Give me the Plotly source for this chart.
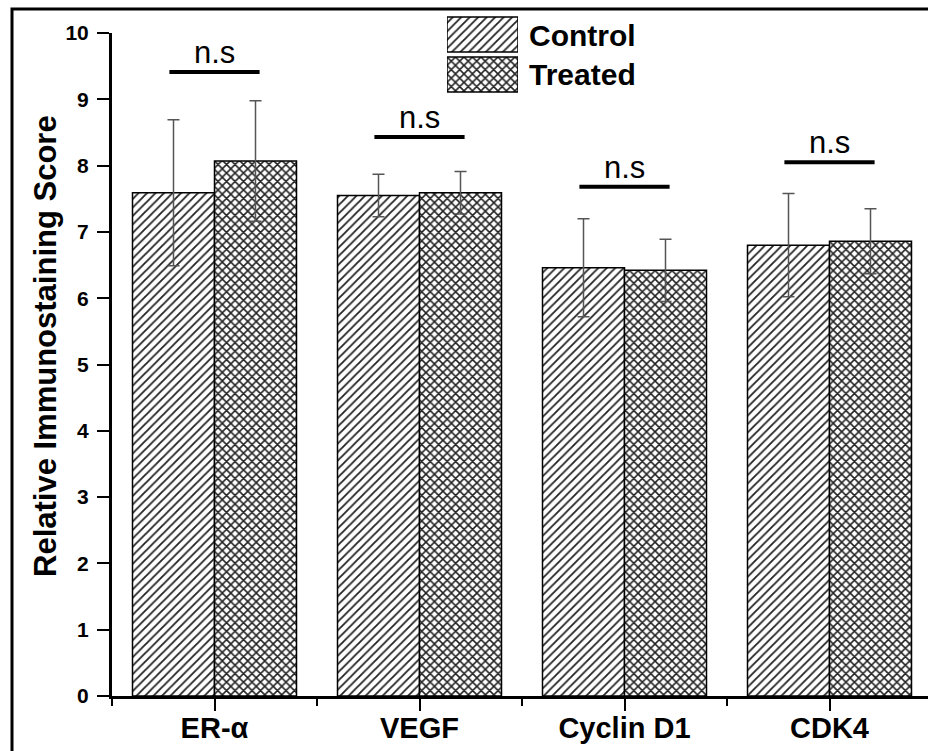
import plotly.graph_objects as go

# Immunostaining scores per marker, mean ± SD
markers = ["ER-α", "VEGF", "Cyclin D1", "CDK4"]
control_mean = [7.59, 7.55, 6.46, 6.80]
control_sd = [1.10, 0.32, 0.74, 0.78]
treated_mean = [8.07, 7.59, 6.42, 6.86]
treated_sd = [0.91, 0.32, 0.47, 0.49]
# height of the "n.s" bracket above each marker pair
ns_level = [9.41, 8.43, 7.68, 8.05]
ns_label = ["n.s", "n.s", "n.s", "n.s"]
y_ticks = [0, 1, 2, 3, 4, 5, 6, 7, 8, 9, 10]

W, H = 928, 751
FONT = "Arial, Liberation Sans, sans-serif"

# plot area in pixels
PX_L, PX_R, PX_T, PX_B = 112, 928, 33, 696


def px_x(px):
    return px / W


def px_y(py):
    return (H - py) / H


positions = list(range(len(markers)))

control_style = dict(
    color="white",
    line=dict(color="black", width=1.5),
    pattern=dict(shape="/", size=6, solidity=0.3, fgcolor="#222222", bgcolor="white"),
)
treated_style = dict(
    color="white",
    line=dict(color="black", width=1.5),
    pattern=dict(shape="x", size=6, solidity=0.45, fgcolor="#222222", bgcolor="white"),
)
err_style = dict(type="data", visible=True, color="#555555", thickness=1.5, width=6)

fig = go.Figure()
fig.add_trace(go.Bar(
    x=positions, y=control_mean, name="Control", marker=control_style,
    error_y=dict(array=control_sd, **err_style), showlegend=False,
))
fig.add_trace(go.Bar(
    x=positions, y=treated_mean, name="Treated", marker=treated_style,
    error_y=dict(array=treated_sd, **err_style), showlegend=False,
))

# legend swatches drawn as bars on a hidden helper axis
for yc, style in ((1.5, control_style), (0.5, treated_style)):
    fig.add_trace(go.Bar(
        x=[1], y=[yc], base=[0], orientation="h", marker=style,
        width=0.875, offset=-0.4375, xaxis="x2", yaxis="y2",
        showlegend=False, hoverinfo="skip",
    ))

shapes = []
annotations = []
for i, (lvl, lab) in enumerate(zip(ns_level, ns_label)):
    shapes.append(dict(type="line", xref="x", yref="y", x0=i - 0.22, x1=i + 0.22,
                       y0=lvl, y1=lvl, line=dict(color="black", width=4)))
    annotations.append(dict(x=i, y=lvl, xref="x", yref="y", text=lab, showarrow=False,
                            xanchor="center", yanchor="bottom", yshift=0,
                            font=dict(family=FONT, size=31, color="black")))

# outer frame: left and top edges only (the rest runs off the page)
fx, fy = px_x(12), px_y(9)
shapes.append(dict(type="path", xref="paper", yref="paper",
                   path=f"M {fx},0 L {fx},{fy} L 1,{fy}",
                   line=dict(color="black", width=3)))

annotations.append(dict(x=px_x(45), y=px_y(346), xref="paper", yref="paper",
                        text="Relative Immunostaining Score", textangle=-90,
                        showarrow=False, xanchor="center", yanchor="middle",
                        font=dict(family=FONT, size=31, weight="bold", color="black")))
for label, yc in (("Control", 35), ("Treated", 74)):
    annotations.append(dict(x=px_x(527), y=px_y(yc), xref="paper", yref="paper",
                            text=label, showarrow=False, xanchor="left", yanchor="middle",
                            font=dict(family=FONT, size=30, weight="bold", color="black")))

span = (PX_R - PX_L) / 205.0

fig.update_layout(
    width=W, height=H,
    margin=dict(l=0, r=0, t=0, b=0),
    template="none",
    paper_bgcolor="white", plot_bgcolor="white",
    barmode="group", bargap=0.2, bargroupgap=0,
    font=dict(family=FONT, color="black"),
    showlegend=False,
    xaxis=dict(
        domain=[px_x(PX_L), px_x(PX_R)], range=[-0.5, -0.5 + span],
        tickmode="array", tickvals=positions, ticktext=markers,
        ticks="outside", ticklen=12, tickwidth=2, tickcolor="black",
        ticklabelstandoff=-8,
        minor=dict(tickmode="array", tickvals=[-0.5, 0.5, 1.5, 2.5], ticks="outside",
                   ticklen=7, tickwidth=2, tickcolor="black", showgrid=False),
        showline=True, linewidth=3, linecolor="black", showgrid=False, zeroline=False,
        tickfont=dict(family=FONT, size=29, weight="bold", color="black"),
        automargin=False, fixedrange=True,
    ),
    yaxis=dict(
        domain=[px_y(PX_B), px_y(PX_T)], range=[0, 10],
        tickmode="array", tickvals=y_ticks,
        ticks="outside", ticklen=12, tickwidth=2, tickcolor="black",
        ticklabelstandoff=4,
        showline=True, linewidth=3, linecolor="black", showgrid=False, zeroline=False,
        tickfont=dict(family=FONT, size=21, weight="bold", color="black"),
        automargin=False, fixedrange=True,
    ),
    xaxis2=dict(domain=[px_x(447), px_x(518)], range=[0, 1], visible=False,
                anchor="y2", fixedrange=True),
    yaxis2=dict(domain=[px_y(94.5), px_y(14.5)], range=[0, 2], visible=False,
                anchor="x2", fixedrange=True),
    shapes=shapes,
    annotations=annotations,
)

fig.write_html("out.html")
